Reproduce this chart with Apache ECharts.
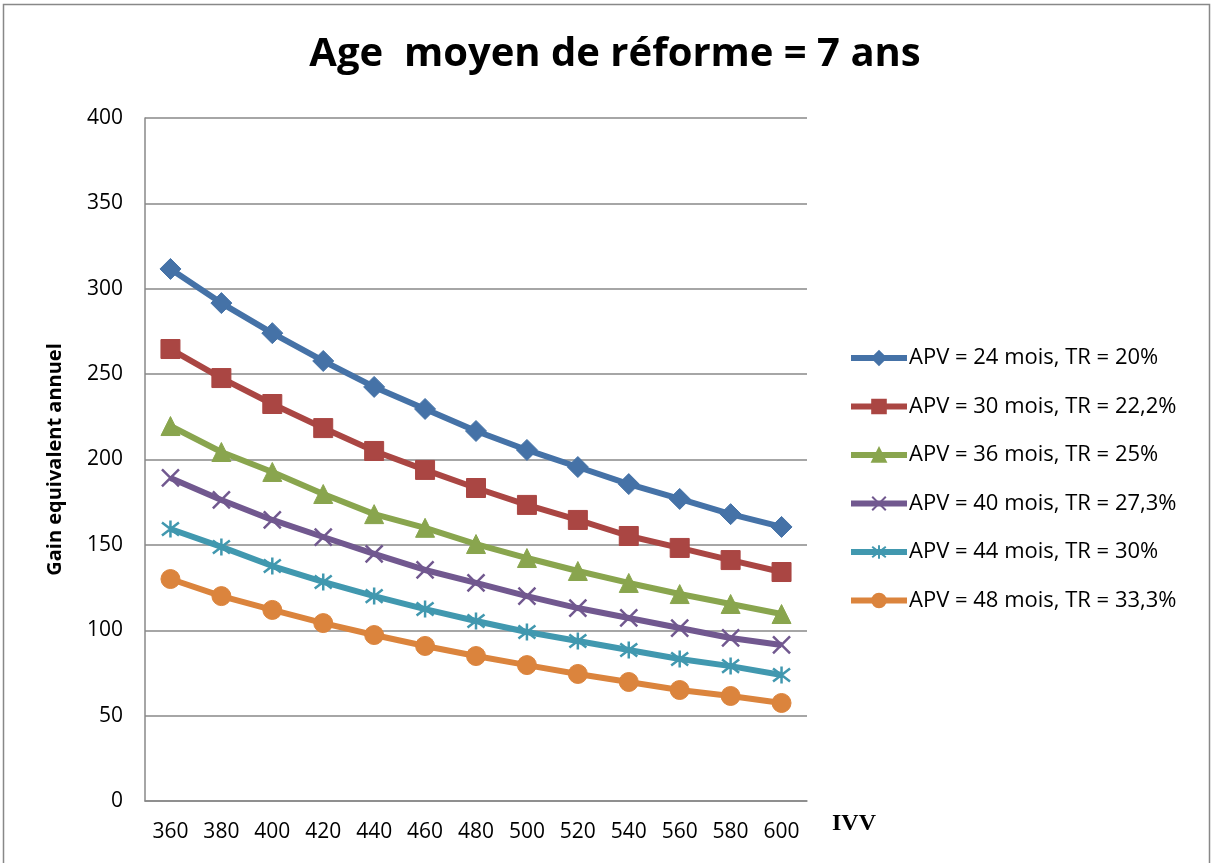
<!DOCTYPE html>
<html><head><meta charset="utf-8">
<script src="https://cdn.jsdelivr.net/npm/echarts@6/dist/echarts.min.js"></script>
<style>html,body{margin:0;padding:0;background:#fff}#c{width:1213px;height:863px}</style>
</head><body><div id="c"></div>
<script>
const categories = ['360','380','400','420','440','460','480','500','520','540','560','580','600'];
const seriesNames = ['APV = 24 mois, TR = 20%','APV = 30 mois, TR = 22,2%','APV = 36 mois, TR = 25%','APV = 40 mois, TR = 27,3%','APV = 44 mois, TR = 30%','APV = 48 mois, TR = 33,3%'];
const apv24 = [311.6,291.6,274,257.7,242.5,229.6,216.7,205.6,195.6,185.6,176.9,168,160.5];
const apv30 = [264.7,247.7,232.5,218.4,205,193.9,183.3,173.4,164.6,155.2,148.2,141.1,134.1];
const apv36 = [219.6,204.4,192.7,179.8,168,160,150.5,142.3,134.7,127.7,121.2,115.4,109.5];
const apv40 = [189.2,176.3,164.6,154.6,144.7,135.3,127.7,120,113,107.2,101.3,95.5,91.4];
const apv44 = [159.3,148.8,137.6,128.3,120,112.4,105.4,99,93.7,88.4,83.2,79,73.8];
const apv48 = [130,120,111.9,104.2,97.2,90.8,84.9,79.6,74.4,69.7,65,61.5,57.4];
const colors = ['#4572A7','#AA4643','#89A54E','#71588F','#4198AF','#DB843D'];
const yTicks = [0,50,100,150,200,250,300,350,400];

const data = [apv24,apv30,apv36,apv40,apv44,apv48];
const symbols = ['diamond','rect','triangle','path://M0,0L10,10M10,0L0,10','path://M0,0L10,10M10,0L0,10M5,-1.5L5,11.5','circle'];
const sizes = [21,19,19,17,17,19];
const chart = echarts.init(document.getElementById('c'));
const font = '"Open Sans", "Liberation Sans", sans-serif';
chart.setOption({
  animation:false,
  title:{text:'Age  moyen de réforme = 7 ans',left:610,top:30,textAlign:'center',
    textStyle:{fontFamily:font,fontWeight:'bold',fontSize:40,color:'#000'}},
  graphic:[
    {type:'rect',shape:{x:3.5,y:4.5,width:1206,height:870},style:{fill:'none',stroke:'#888',lineWidth:1.5},silent:true},
    {type:'text',left:832,top:812,style:{text:'IVV',fontFamily:'"Liberation Serif", "DejaVu Serif", serif',fontWeight:'bold',fontSize:24,fill:'#000'}}
  ],
  legend:{orient:'vertical',left:843,top:342,itemGap:26.5,itemWidth:56,itemHeight:17,
    lineStyle:{width:6},
    textStyle:{fontFamily:font,fontSize:22,color:'#000',padding:[0,0,0,-3]},
    data:seriesNames},
  grid:{left:145,right:406,top:118,bottom:62,containLabel:false},
  xAxis:{type:'category',data:categories,boundaryGap:true,
    axisLine:{lineStyle:{color:'#888',width:1.5}},axisTick:{show:false},
    axisLabel:{fontFamily:font,fontSize:21,color:'#000',margin:21}},
  yAxis:{type:'value',min:0,max:400,interval:50,
    name:'Gain equivalent annuel',nameLocation:'middle',nameGap:80,nameRotate:90,
    nameTextStyle:{fontFamily:font,fontWeight:'bold',fontSize:20,color:'#000'},
    axisLine:{show:true,lineStyle:{color:'#888',width:1.5}},axisTick:{show:false},
    axisLabel:{fontFamily:font,fontSize:21,color:'#000',margin:22,
      formatter:v=>yTicks.includes(v)?String(v):''},
    splitLine:{lineStyle:{color:'#888',width:1.5}}},
  series:data.map((d,i)=>({
    name:seriesNames[i],type:'line',data:d,
    symbol:symbols[i],symbolSize:sizes[i],showAllSymbol:true,
    lineStyle:{color:colors[i],width:6},
    itemStyle:(i===3||i===4)?{color:'none',borderColor:colors[i],borderWidth:2.5}:{color:colors[i],borderColor:colors[i],borderWidth:1},
    emphasis:{disabled:true}
  }))
});
</script></body></html>
